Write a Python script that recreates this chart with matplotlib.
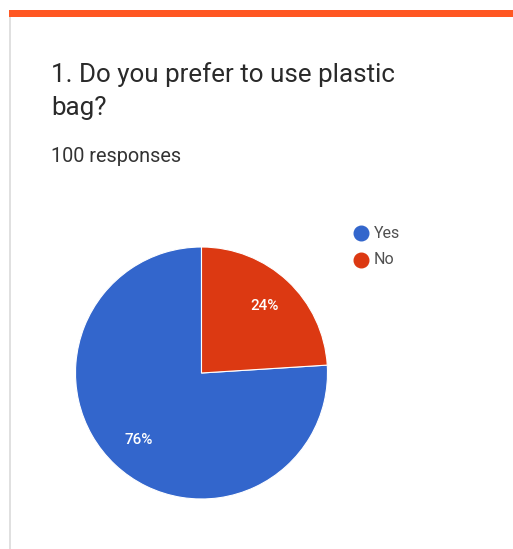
import matplotlib
matplotlib.use("Agg")
import matplotlib.pyplot as plt
from matplotlib.patches import Rectangle
from matplotlib.lines import Line2D

labels = ["Yes", "No"]
values = [76, 24]
colors = ["#3366CC", "#DC3912"]
title_lines = ["1. Do you prefer to use plastic", "bag?"]
subtitle = "100 responses"

W, H = 513, 549
fig = plt.figure(figsize=(W / 100, H / 100), dpi=100)
fig.patch.set_facecolor("white")

def fx(x):
    return x / W

def fy(y):
    return 1 - y / H

# card decoration
fig.patches.append(Rectangle((fx(9), fy(17)), fx(504), 7 / H, transform=fig.transFigure,
                             facecolor="#FF5722", edgecolor="none"))
fig.patches.append(Rectangle((fx(9), 0), 2 / W, fy(17), transform=fig.transFigure,
                             facecolor="#E0E0E0", edgecolor="none"))

# title
fig.text(fx(51), fy(82), title_lines[0], fontsize=18.7, family="Roboto", color="#2a2a2a", va="baseline")
fig.text(fx(51), fy(115), title_lines[1], fontsize=18.7, family="Roboto", color="#2a2a2a", va="baseline")
fig.text(fx(51), fy(162), subtitle, fontsize=14.3, family="Roboto",
         color="#333333", va="baseline")

# pie
cx, cy, r = 201.5, 373, 126
ax = fig.add_axes([fx(cx - r), fy(cy + r), 2 * r / W, 2 * r / H])
wedges, texts, autotexts = ax.pie(values, colors=colors, startangle=90, counterclock=True,
                                  radius=1, autopct=lambda p: f"{p:.0f}%", pctdistance=0.73,
                                  wedgeprops=dict(edgecolor="white", linewidth=0.8),
                                  textprops=dict(color="white", fontsize=11, family="Roboto",
                                                 fontweight="medium"))
ax.set_xlim(-1, 1)
ax.set_ylim(-1, 1)
ax.set_aspect("equal")
ax.axis("off")

# legend
for i, (lab, col) in enumerate(zip(labels, colors)):
    y = 233 + i * 27
    fig.lines.append(Line2D([fx(361)], [fy(y)], transform=fig.transFigure, marker="o",
                            markersize=10.5, markerfacecolor=col, markeredgecolor=col, linestyle="none"))
    fig.text(fx(374), fy(y), lab, fontsize=11.5, family="Roboto",
             color="#505050", va="center")

fig.savefig("out.png", dpi=100, facecolor="white")
